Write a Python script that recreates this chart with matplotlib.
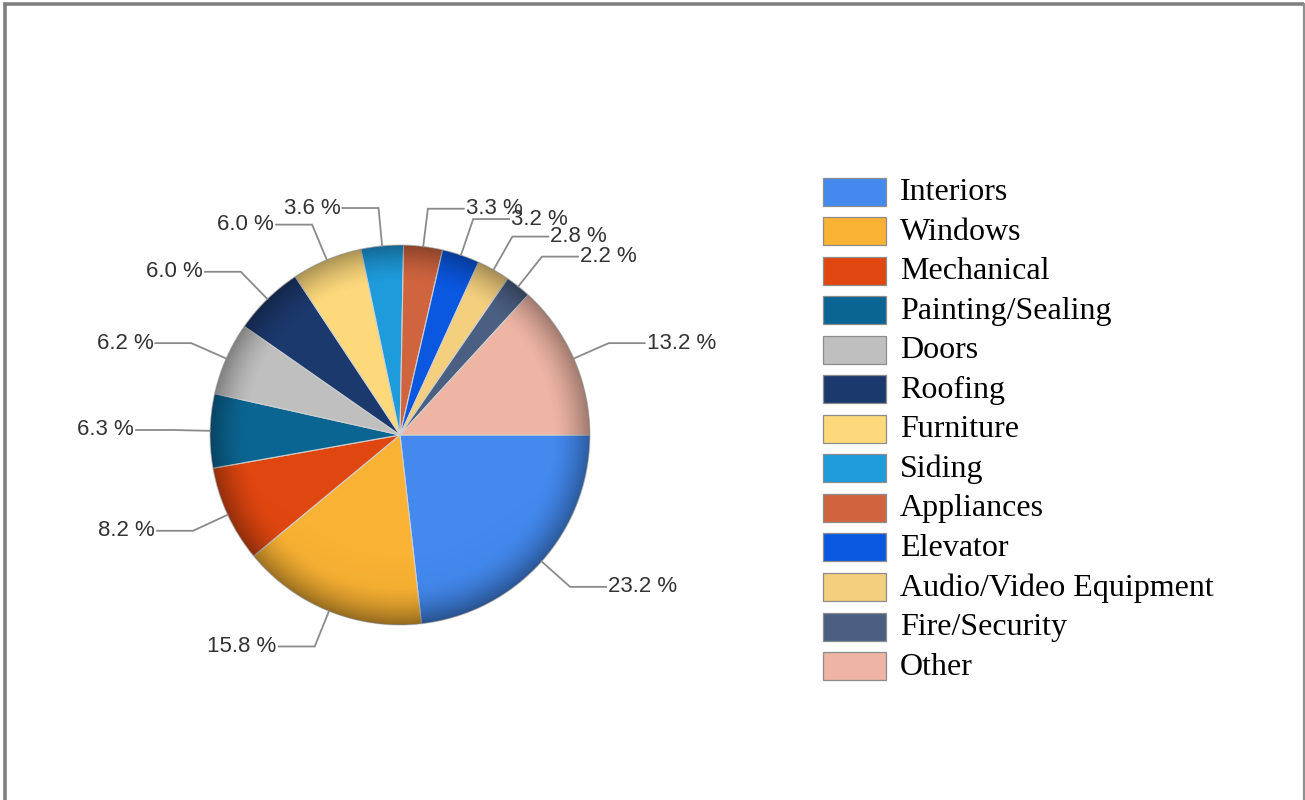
import numpy as np
import matplotlib
matplotlib.use('Agg')
import matplotlib.pyplot as plt
from matplotlib.patches import Circle, Rectangle

categories = ['Interiors', 'Windows', 'Mechanical', 'Painting/Sealing', 'Doors', 'Roofing',
              'Furniture', 'Siding', 'Appliances', 'Elevator', 'Audio/Video Equipment',
              'Fire/Security', 'Other']
shares = [23.2, 15.8, 8.2, 6.3, 6.2, 6.0, 6.0, 3.6, 3.3, 3.2, 2.8, 2.2, 13.2]
colors = ['#4389ee', '#f9b233', '#df4610', '#0b6592', '#bfbfbf', '#1c396d',
          '#fdd97c', '#1d9bdb', '#d0643f', '#0a57e0', '#f4cf7e', '#4a5f82', '#eeb5a4']

W, H = 1305, 800
cx, cy, R = 400, 435, 190

fig = plt.figure(figsize=(W / 100, H / 100), dpi=100)
ax = fig.add_axes([0, 0, 1, 1])

# screen-like coordinates: y grows downward, so counterclock=True turns clockwise on screen
wedges, _ = ax.pie(shares, colors=colors, startangle=0, counterclock=True,
                   center=(cx, cy), radius=R, frame=True,
                   wedgeprops=dict(edgecolor='#d0d0d0', linewidth=0.8))
ax.set_xlim(0, W)
ax.set_ylim(H, 0)
ax.set_aspect('equal')
ax.axis('off')

# rim shading to mimic the bevelled look
n = 500
yy, xx = np.mgrid[-1:1:n * 1j, -1:1:n * 1j]
rr = np.sqrt(xx ** 2 + yy ** 2)
shade = np.zeros((n, n, 4))
alpha = np.clip((rr - 0.8) / 0.2, 0, 1) ** 1.6 * 0.33
alpha += np.clip(yy, 0, 1) ** 2 * np.clip((rr - 0.6) / 0.4, 0, 1) * 0.08
shade[..., 3] = np.clip(alpha, 0, 0.45)
img = ax.imshow(shade, extent=[cx - R, cx + R, cy + R, cy - R], zorder=3, interpolation='bilinear')
img.set_clip_path(Circle((cx, cy), R, transform=ax.transData))
ax.set_xlim(0, W)
ax.set_ylim(H, 0)

# percentage labels with elbow leader lines
for w, s in zip(wedges, shares):
    th = np.deg2rad((w.theta1 + w.theta2) / 2)
    ex, ey = cx + R * np.cos(th), cy + R * np.sin(th)
    bx, by = cx + R * 1.2 * np.cos(th), cy + R * 1.2 * np.sin(th)
    side = 1 if np.cos(th) >= 0 else -1
    hx = bx + side * 36
    ax.plot([ex, bx, hx], [ey, by, by], color='#8a8a8a', lw=1.3, zorder=4,
            solid_joinstyle='miter')
    ax.text(hx + side * 2, by, f'{s:.1f} %', ha='left' if side > 0 else 'right',
            va='center', fontsize=16, family='Liberation Sans', color='#333333', zorder=5)

# legend
for i, (c, lab) in enumerate(zip(colors, categories)):
    y0 = 191.5 + i * 39.55
    ax.add_patch(Rectangle((823, y0 - 14), 63, 28, facecolor=c, edgecolor='#8c8c8c', lw=0.9))
    ax.text(900, y0 + 1, lab, ha='left', va='center', fontsize=23,
            family='Liberation Serif', color='#000000')

# outer frame
ax.plot([5, 5], [3, H + 5], color='#808080', lw=2.6, solid_capstyle='butt')
ax.plot([3, 1304], [3.5, 3.5], color='#808080', lw=2.6, solid_capstyle='butt')
ax.plot([1303.5, 1303.5], [3, H + 5], color='#909090', lw=1.6, solid_capstyle='butt')

fig.savefig('out.png', dpi=100)
